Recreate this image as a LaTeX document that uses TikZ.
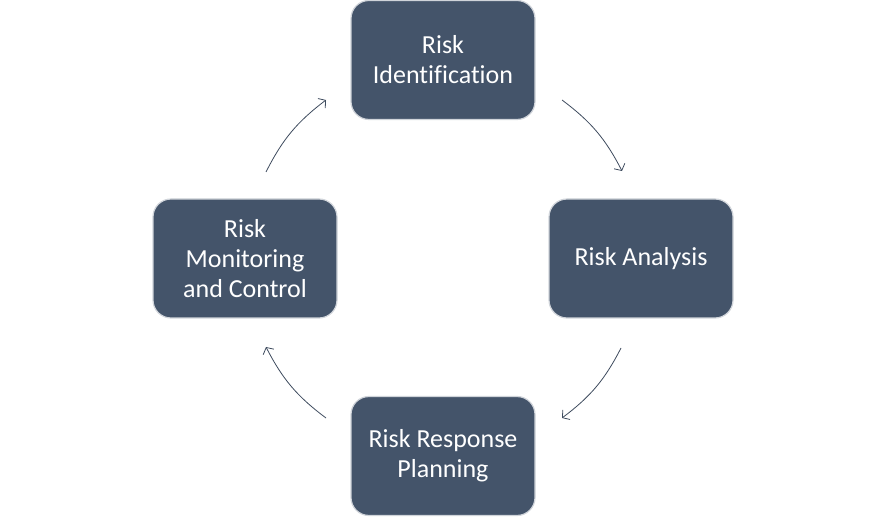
\documentclass[tikz,border=0pt]{standalone}
\usepackage{fontspec}
\setmainfont[Ligatures={NoCommon}]{Carlito}
\usetikzlibrary{arrows.meta}
\definecolor{boxfill}{HTML}{44546A}
\definecolor{boxline}{HTML}{D0D4DA}
\definecolor{arrowcol}{HTML}{3E4B5E}
\begin{document}
\begin{tikzpicture}[x=1pt,y=-1pt,
  stepbox/.style={draw=boxline, line width=1.2pt, fill=boxfill, rounded corners=18pt,
    minimum width=184pt, minimum height=119pt, text=white, align=center,
    font=\fontsize{26}{30}\selectfont, inner sep=0pt},
  cyc/.style={draw=arrowcol, line width=0.8pt, -{Straight Barb[length=5pt,width=12pt]}}]
\useasboundingbox (0,0) rectangle (886,518);
\node[stepbox] (ri) at (443,60) {Risk\\Identification};
\node[stepbox] (ra) at (641,258.5) {Risk Analysis};
\node[stepbox] (rp) at (443,456) {Risk Response\\Planning};
\node[stepbox] (rm) at (245,258.5) {Risk\\Monitoring\\and Control};
\coordinate (a1) at (562,100);
\coordinate (a2) at (622,171);
\coordinate (b1) at (621,348);
\coordinate (b2) at (562,418);
\coordinate (c1) at (326,418);
\coordinate (c2) at (266,347);
\coordinate (d1) at (266,172);
\coordinate (d2) at (326,100);
\draw[cyc] (a1) to[bend left=13] (a2);
\draw[cyc] (b1) to[bend left=13] (b2);
\draw[cyc] (c1) to[bend left=13] (c2);
\draw[cyc] (d1) to[bend left=13] (d2);
\end{tikzpicture}
\end{document}
